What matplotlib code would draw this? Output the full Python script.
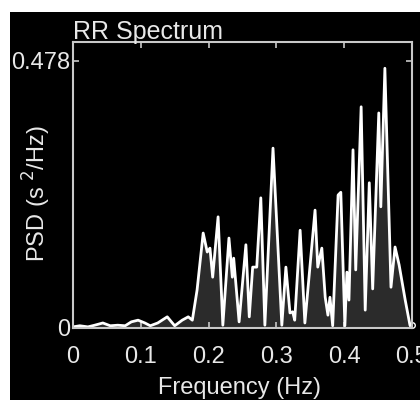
import matplotlib
matplotlib.use("Agg")
import matplotlib.pyplot as plt
from matplotlib.patches import Rectangle

# RR interval spectrum
freq = [0.000, 0.010, 0.022, 0.032, 0.044, 0.055, 0.066, 0.077, 0.086, 0.096,
        0.106, 0.114, 0.125, 0.139, 0.150, 0.161, 0.170, 0.176, 0.183, 0.192,
        0.198, 0.202, 0.206, 0.214, 0.221, 0.230, 0.235, 0.237, 0.245, 0.255,
        0.260, 0.265, 0.271, 0.277, 0.283, 0.295, 0.308, 0.314, 0.320, 0.324,
        0.327, 0.335, 0.342, 0.357, 0.361, 0.367, 0.372, 0.376, 0.379, 0.383,
        0.391, 0.395, 0.401, 0.404, 0.407, 0.413, 0.417, 0.425, 0.431, 0.437,
        0.442, 0.451, 0.454, 0.460, 0.469, 0.475, 0.481, 0.490, 0.497, 0.500]
psd = [0.002, 0.004, 0.002, 0.005, 0.009, 0.004, 0.005, 0.004, 0.011, 0.014,
       0.009, 0.004, 0.009, 0.020, 0.004, 0.014, 0.020, 0.014, 0.068, 0.170,
       0.136, 0.143, 0.091, 0.199, 0.005, 0.161, 0.091, 0.125, 0.011, 0.149,
       0.020, 0.109, 0.109, 0.233, 0.005, 0.322, 0.005, 0.109, 0.027, 0.029,
       0.014, 0.175, 0.009, 0.211, 0.109, 0.143, 0.055, 0.023, 0.055, 0.004,
       0.238, 0.243, 0.004, 0.100, 0.050, 0.319, 0.104, 0.396, 0.032, 0.260,
       0.070, 0.385, 0.217, 0.465, 0.073, 0.145, 0.113, 0.050, 0.005, 0.005]

x_ticks = [0, 0.1, 0.2, 0.3, 0.4, 0.5]
x_labels = ["0", "0.1", "0.2", "0.3", "0.4", "0.5"]
y_ticks = [0, 0.478]
y_labels = ["0", "0.478"]

plt.rcParams['font.family'] = ['Liberation Sans', 'DejaVu Sans']
fg = '#e8e8e8'

fig = plt.figure(figsize=(4.2, 4.0), dpi=100)
fig.patch.set_facecolor('white')
# black panel, leaving the thin white strip on the top and left
fig.add_artist(Rectangle((10 / 420, 0), 410 / 420, 388 / 400,
                         transform=fig.transFigure, facecolor='black',
                         edgecolor='none', zorder=-10))

ax = fig.add_axes([73 / 420, 1 - 328 / 400, 339 / 420, 286 / 400])
ax.set_facecolor('black')
ax.fill_between(freq, psd, 0, color='#2b2b2b', linewidth=0)
ax.plot(freq, psd, color='white', linewidth=2)
ax.plot(freq[-1:], psd[-1:], 'o', mfc='none', mec='white', ms=4, mew=1,
        clip_on=False)

ax.set_xlim(0, 0.5)
ax.set_ylim(0, 0.512)
ax.set_xticks(x_ticks)
ax.set_xticklabels(x_labels)
ax.set_yticks(y_ticks)
ax.set_yticklabels(y_labels)
ax.tick_params(axis='both', direction='in', colors='#c8c8c8', labelcolor=fg,
               labelsize=17, length=4, width=1.2, top=True, right=True)
ax.tick_params(axis='x', pad=13)
ax.tick_params(axis='y', pad=2)
for s in ax.spines.values():
    s.set_color('#c8c8c8')
    s.set_linewidth(1.5)

ax.set_title('RR Spectrum', loc='left', color=fg, fontsize=18, pad=2)
ax.set_xlabel('Frequency (Hz)', color=fg, fontsize=17)
ax.xaxis.set_label_coords(0.49, -0.172)
ax.set_ylabel('PSD (s $^2$/Hz)', color=fg, fontsize=17)
ax.yaxis.set_label_coords(-0.058, 0.47)

fig.savefig('out.png', dpi=100, facecolor=fig.get_facecolor())
